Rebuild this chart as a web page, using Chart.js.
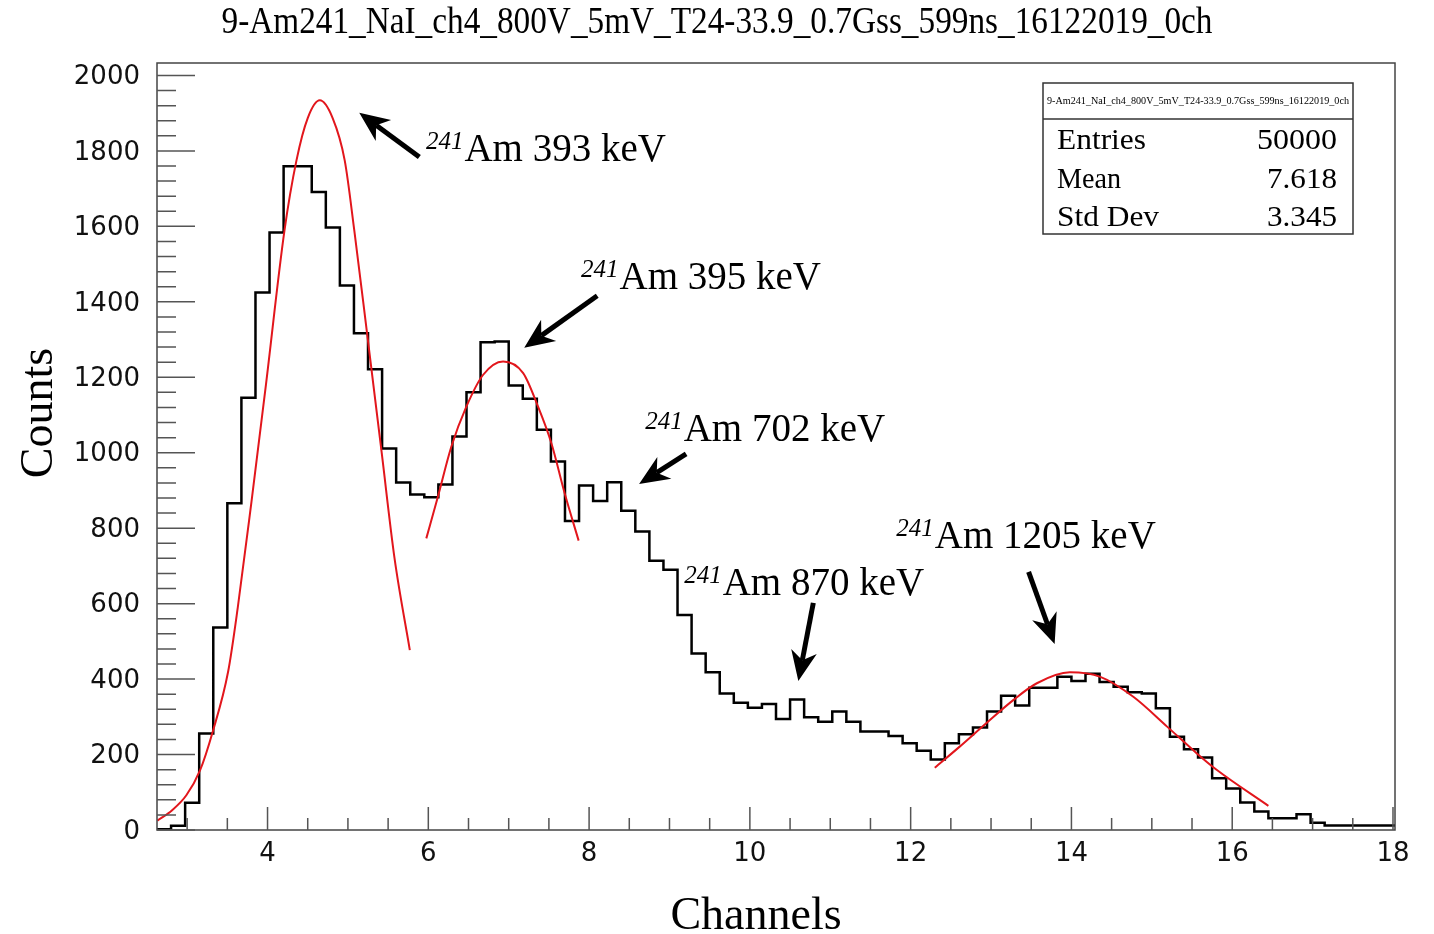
<!doctype html>
<html lang="en">
<head>
<meta charset="utf-8">
<title>Am241 NaI spectrum</title>
<style>
  * { margin: 0; padding: 0; }
  body { background: #fff; }
  #chartBox { width: 1434px; height: 934px; }
</style>
</head>
<body>
<div id="chartBox"><canvas id="myChart" width="1434" height="934"></canvas></div>
<script src="https://cdn.jsdelivr.net/npm/chart.js"></script>
<script>
const histTitle = '9-Am241_NaI_ch4_800V_5mV_T24-33.9_0.7Gss_599ns_16122019_0ch';

// histogram: first bin low edge, bin width, counts per bin
const binStart = 2.625;
const binWidth = 0.175;
const counts = [
  2, 11, 72, 256, 537, 866, 1146, 1425, 1584, 1759,
  1759, 1691, 1597, 1443, 1317, 1221, 1011, 921, 889, 882,
  916, 1043, 1160, 1293, 1295, 1178, 1143, 1061, 977, 819,
  913, 872, 922, 846, 791, 714, 690, 570, 468, 418,
  362, 337, 324, 334, 294, 346, 299, 287, 314, 287,
  261, 261, 249, 230, 210, 187, 230, 254, 272, 314,
  356, 330, 377, 377, 406, 395, 414, 392, 380, 365,
  362, 323, 247, 214, 192, 137, 110, 73, 49, 31,
  31, 42, 19, 12, 12, 12, 12, 12
];

const xTicks = [4, 6, 8, 10, 12, 14, 16, 18];
const yTicks = [0, 200, 400, 600, 800, 1000, 1200, 1400, 1600, 1800, 2000];

// gaussian fits
const fit1X = [2.63, 2.81, 2.99, 3.16, 3.32, 3.51, 3.63, 3.80, 3.98, 4.21, 4.36, 4.50, 4.65, 4.81, 4.96, 5.08, 5.24, 5.42, 5.58, 5.77];
const fit1Y = [25, 52, 92, 158, 262, 420, 590, 870, 1180, 1588, 1775, 1887, 1934, 1887, 1775, 1588, 1313, 1000, 720, 477];
const fit2X = [5.975, 6.12, 6.286, 6.473, 6.68, 6.93, 7.18, 7.365, 7.531, 7.697, 7.87];
const fit2Y = [773, 884, 1016, 1122, 1206, 1242, 1211, 1122, 1025, 892, 767];
const fit3X = [12.30, 12.61, 12.94, 13.28, 13.57, 13.98, 14.36, 14.77, 15.19, 15.56, 15.81, 16.45];
const fit3Y = [165, 221, 283, 345, 389, 418, 406, 353, 274, 203, 159, 64];

// stats box
const statsNames = ['Entries', 'Mean', 'Std Dev'];
const statsValues = ['50000', '7.618', '3.345'];

// peak labels and arrows (data coordinates)
const peakText = ['Am 393 keV', 'Am 395 keV', 'Am 702 keV', 'Am 870 keV', 'Am 1205 keV'];
const peakLabelX = [5.97, 7.90, 8.698, 9.183, 11.822];
const peakLabelY = [1774, 1434, 1031, 623, 748];
const arrowFromX = [5.888, 8.101, 9.207, 10.789, 13.467];
const arrowFromY = [1784, 1416, 997, 602, 684];
const arrowToX = [5.141, 7.193, 8.622, 10.603, 13.791];
const arrowToY = [1901, 1278, 917, 395, 493];

const histPoints = counts.map((c, i) => ({x: binStart + i * binWidth, y: c}));
histPoints.push({x: binStart + counts.length * binWidth, y: counts[counts.length - 1]});

function toPoints(xs, ys) {
  return xs.map((x, i) => ({x: x, y: ys[i]}));
}

function drawFit(ctx, text, x, y, font, width, align) {
  ctx.save();
  ctx.font = font;
  const w = ctx.measureText(text).width;
  ctx.translate(x, y);
  ctx.scale(width / w, 1);
  ctx.textAlign = align;
  ctx.textBaseline = 'alphabetic';
  ctx.fillText(text, 0, 0);
  ctx.restore();
}

function drawArrow(ctx, x1, y1, x2, y2) {
  const ang = Math.atan2(y2 - y1, x2 - x1);
  const cs = Math.cos(ang), sn = Math.sin(ang);
  const len = 30, half = 13, notch = 9;
  const bx = x2 - cs * len, by = y2 - sn * len;
  const nx = x2 - cs * (len - notch), ny = y2 - sn * (len - notch);
  ctx.save();
  ctx.strokeStyle = '#000';
  ctx.fillStyle = '#000';
  ctx.lineWidth = 5;
  ctx.beginPath();
  ctx.moveTo(x1, y1);
  ctx.lineTo(nx, ny);
  ctx.stroke();
  ctx.beginPath();
  ctx.moveTo(x2, y2);
  ctx.lineTo(bx - sn * half, by + cs * half);
  ctx.lineTo(nx, ny);
  ctx.lineTo(bx + sn * half, by - cs * half);
  ctx.closePath();
  ctx.fill();
  ctx.restore();
}

const rootFrame = {
  id: 'rootFrame',
  afterDraw(chart) {
    const ctx = chart.ctx;
    const a = chart.chartArea;
    const xs = chart.scales.x, ys = chart.scales.y;
    ctx.save();

    // frame
    ctx.strokeStyle = '#444';
    ctx.lineWidth = 1.5;
    ctx.strokeRect(a.left, a.top, a.right - a.left, a.bottom - a.top);

    // ticks drawn inside the frame
    ctx.strokeStyle = '#555';
    ctx.beginPath();
    for (let v = 3; v <= 18; v += 0.5) {
      const px = xs.getPixelForValue(v);
      const len = xTicks.includes(v) ? 23 : 12;
      ctx.moveTo(px, a.bottom);
      ctx.lineTo(px, a.bottom - len);
    }
    for (let v = 0; v <= 2000; v += 40) {
      const py = ys.getPixelForValue(v);
      const len = yTicks.includes(v) ? 38 : 19;
      ctx.moveTo(a.left, py);
      ctx.lineTo(a.left + len, py);
    }
    ctx.stroke();

    // title
    ctx.fillStyle = '#000';
    drawFit(ctx, histTitle, chart.width / 2, 33, '37px "Liberation Serif"', 991, 'center');

    // axis titles
    ctx.font = '46px "Liberation Serif"';
    ctx.textAlign = 'center';
    ctx.textBaseline = 'alphabetic';
    ctx.fillText('Channels', 756, 929);
    ctx.save();
    ctx.translate(52, 413);
    ctx.rotate(-Math.PI / 2);
    ctx.fillText('Counts', 0, 0);
    ctx.restore();

    // stats box
    const bl = a.right - 352, bt = a.top + 20, bw = 310, bh = 151;
    ctx.fillStyle = '#fff';
    ctx.fillRect(bl, bt, bw, bh);
    ctx.strokeStyle = '#333';
    ctx.lineWidth = 1.5;
    ctx.strokeRect(bl, bt, bw, bh);
    ctx.beginPath();
    ctx.moveTo(bl, bt + 36);
    ctx.lineTo(bl + bw, bt + 36);
    ctx.stroke();
    ctx.fillStyle = '#000';
    drawFit(ctx, histTitle, bl + bw / 2, bt + 21, '11px "Liberation Serif"', 302, 'center');
    statsNames.forEach((name, i) => {
      const base = bt + 66 + i * 38.5;
      drawFit(ctx, name, bl + 14, base, '29px "Liberation Serif"', [89, 64, 102][i], 'left');
      drawFit(ctx, statsValues[i], bl + bw - 16, base, '29px "Liberation Serif"', [80, 70, 70][i], 'right');
    });

    // peak labels
    peakText.forEach((t, i) => {
      const px = xs.getPixelForValue(peakLabelX[i]);
      const py = ys.getPixelForValue(peakLabelY[i]);
      ctx.textAlign = 'left';
      ctx.font = 'italic 25px "Liberation Serif"';
      ctx.fillText('241', px, py - 12);
      const sw = ctx.measureText('241').width;
      ctx.font = '39px "Liberation Serif"';
      ctx.fillText(t, px + sw + 1, py);
      drawArrow(ctx,
        xs.getPixelForValue(arrowFromX[i]), ys.getPixelForValue(arrowFromY[i]),
        xs.getPixelForValue(arrowToX[i]), ys.getPixelForValue(arrowToY[i]));
    });

    ctx.restore();
  }
};

const fitStyle = {
  borderColor: 'rgb(226, 22, 28)',
  borderWidth: 2,
  pointRadius: 0,
  cubicInterpolationMode: 'monotone',
  order: 0
};

const data = {
  datasets: [
    Object.assign({label: 'fit1', data: toPoints(fit1X, fit1Y)}, fitStyle),
    Object.assign({label: 'fit2', data: toPoints(fit2X, fit2Y)}, fitStyle),
    Object.assign({label: 'fit3', data: toPoints(fit3X, fit3Y)}, fitStyle),
    {
      label: 'counts',
      data: histPoints,
      borderColor: '#000',
      borderWidth: 2.5,
      pointRadius: 0,
      stepped: true,
      order: 1
    }
  ]
};

const config = {
  type: 'line',
  data,
  options: {
    responsive: false,
    animation: false,
    events: [],
    layout: { padding: { top: 63, right: 39, left: 0, bottom: 0 } },
    plugins: {
      legend: { display: false },
      tooltip: { enabled: false },
      title: { display: false }
    },
    scales: {
      x: {
        type: 'linear',
        min: binStart,
        max: binStart + counts.length * binWidth,
        grid: { display: false },
        border: { display: false },
        ticks: {
          font: { family: 'DejaVu Sans', size: 26 },
          color: '#111',
          padding: 1,
          maxRotation: 0,
          autoSkip: false,
          callback: v => String(v)
        },
        afterBuildTicks: s => { s.ticks = xTicks.map(v => ({value: v})); },
        afterFit: s => { s.height = 104; s.paddingLeft = 0; s.paddingRight = 0; }
      },
      y: {
        min: 0,
        max: 2033,
        grid: { display: false },
        border: { display: false },
        ticks: {
          font: { family: 'DejaVu Sans', size: 26 },
          color: '#111',
          padding: 9,
          labelOffset: 2,
          callback: v => String(v)
        },
        afterBuildTicks: s => { s.ticks = yTicks.map(v => ({value: v})); },
        afterFit: s => { s.width = 157; s.paddingTop = 0; s.paddingBottom = 0; }
      }
    }
  },
  plugins: [rootFrame]
};

const myChart = new Chart(document.getElementById('myChart'), config);
</script>
</body>
</html>
